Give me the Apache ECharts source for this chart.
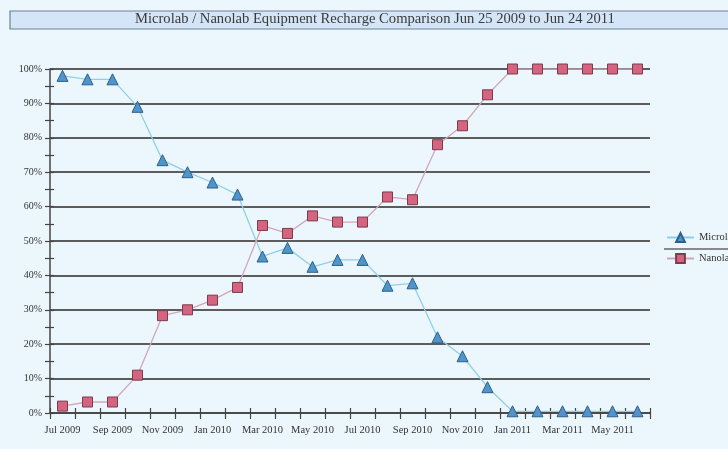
<!DOCTYPE html>
<html>
<head>
<meta charset="utf-8">
<script src="https://cdn.jsdelivr.net/npm/echarts@6/dist/echarts.min.js"></script>
<style>
html,body{margin:0;padding:0;background:#ecf7fd;}
#c{width:728px;height:449px;}
</style>
</head>
<body>
<div id="c"></div>
<script>
const categories = ['Jul 2009','Aug 2009','Sep 2009','Oct 2009','Nov 2009','Dec 2009',
  'Jan 2010','Feb 2010','Mar 2010','Apr 2010','May 2010','Jun 2010',
  'Jul 2010','Aug 2010','Sep 2010','Oct 2010','Nov 2010','Dec 2010',
  'Jan 2011','Feb 2011','Mar 2011','Apr 2011','May 2011','Jun 2011'];
const microlab = [98, 97, 97, 89, 73.5, 70, 67, 63.5, 45.5, 48, 42.5, 44.5,
  44.5, 37, 37.7, 22, 16.5, 7.5, 0.5, 0.5, 0.5, 0.5, 0.5, 0.5];
const nanolab = [2, 3.2, 3.2, 11, 28.3, 30, 32.8, 36.5, 54.5, 52.2, 57.3, 55.5,
  55.5, 62.8, 62, 78, 83.5, 92.5, 100, 100, 100, 100, 100, 100];
const yTicks = [0, 10, 20, 30, 40, 50, 60, 70, 80, 90, 100];

const serif = 'Liberation Serif';
const chart = echarts.init(document.getElementById('c'));
chart.setOption({
  backgroundColor: '#ecf7fd',
  animation: false,
  graphic: [
    {type:'rect', shape:{x:10, y:11, width:730, height:18},
     style:{fill:'#d3e5f6', stroke:'#6f8296', lineWidth:1.2}},
    {type:'text', left:135, top:12,
     style:{text:'Microlab / Nanolab Equipment Recharge Comparison Jun 25 2009 to Jun 24 2011',
            font:'14.6px "Liberation Serif"', fill:'#3a3a3a'}},
    {type:'line', shape:{x1:664, y1:249, x2:728, y2:249},
     style:{stroke:'#666', lineWidth:1.5}}
  ],
  legend: {
    orient:'vertical', left:661, top:227, itemGap:10, itemWidth:27, itemHeight:11,
    textStyle:{fontFamily:serif, fontSize:10.5, color:'#333'},
    data:['Microlab','Nanolab']
  },
  grid: {left:50, right:78, top:69, bottom:36, containLabel:false},
  xAxis: [{
    type:'category', data:categories, boundaryGap:true,
    axisLine:{lineStyle:{color:'#444', width:1.5}},
    axisTick:{show:true, interval:0, length:6, lineStyle:{color:'#444', width:1.2}},
    axisLabel:{interval:1, fontFamily:serif, fontSize:10.5, color:'#333', margin:12},
    splitLine:{show:false}
  },{
    type:'category', data:categories, boundaryGap:true, position:'bottom',
    axisLine:{show:false},
    axisTick:{show:true, inside:true, interval:0, length:5, lineStyle:{color:'#444', width:1.2}},
    axisLabel:{show:false},
    splitLine:{show:false}
  }],
  yAxis: [{
    type:'value', min:yTicks[0], max:yTicks[yTicks.length-1], interval:10,
    axisLine:{show:true, lineStyle:{color:'#444', width:1.5}},
    axisTick:{show:true, length:5, lineStyle:{color:'#444', width:1.2}},
    minorTick:{show:true, splitNumber:2, length:5, lineStyle:{color:'#444', width:1.2}},
    axisLabel:{formatter:'{value}%', fontFamily:serif, fontSize:10, color:'#333', margin:8},
    splitLine:{show:true, lineStyle:{color:'#5c5c5c', width:2}}
  },{
    type:'value', min:yTicks[0], max:yTicks[yTicks.length-1], interval:10, position:'left',
    axisLine:{show:false},
    axisTick:{show:true, inside:true, length:4, lineStyle:{color:'#444', width:1.2}},
    minorTick:{show:true, splitNumber:2, length:4, lineStyle:{color:'#444', width:1.2}},
    axisLabel:{show:false},
    splitLine:{show:false}
  }],
  series: [{
    name:'Microlab', type:'line', data:microlab,
    symbol:'triangle', symbolSize:11,
    lineStyle:{color:'#8fcfe6', width:1.3},
    itemStyle:{color:'#4f95c9', borderColor:'#2d5f8c', borderWidth:1}
  },{
    name:'Nanolab', type:'line', data:nanolab,
    symbol:'rect', symbolSize:10,
    lineStyle:{color:'#d2a6b8', width:1.3},
    itemStyle:{color:'#d4647f', borderColor:'#7b3c4c', borderWidth:1}
  }]
});
</script>
</body>
</html>
